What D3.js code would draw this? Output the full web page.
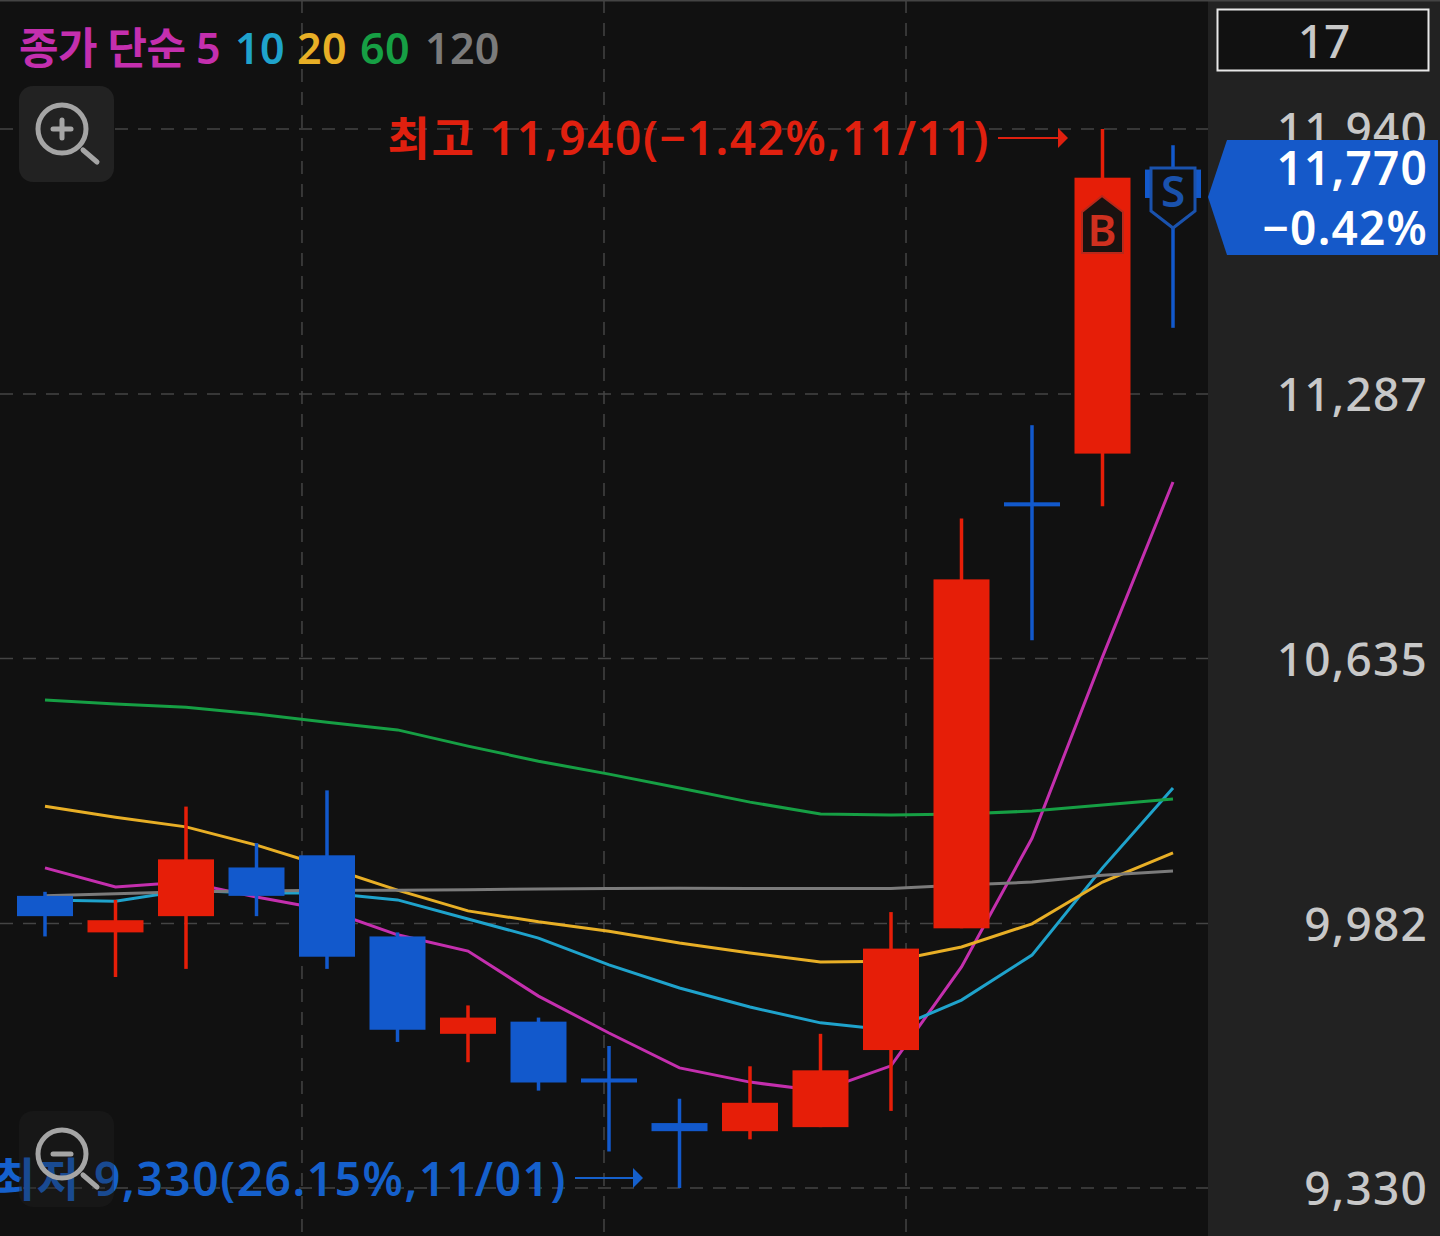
<!DOCTYPE html>
<html>
<head>
<meta charset="utf-8">
<script src="https://cdn.jsdelivr.net/npm/d3@7"></script>
<style>
  html, body { margin: 0; padding: 0; background: #111; overflow: hidden; }
  svg { display: block; }
  text { font-family: "Noto Sans", "Noto Sans CJK KR", sans-serif; }
</style>
</head>
<body>
<div id="chart"></div>
<script>
// candles, oldest first
const opens  = [10050, 9960, 10000, 10120, 10150, 9950, 9710, 9740, 9600, 9490, 9470, 9480, 9670, 9970, 11020, 11140, 11840];
const highs  = [10060, 10040, 10270, 10180, 10310, 9960, 9780, 9750, 9680, 9550, 9630, 9710, 10010, 10980, 11210, 11940, 11900];
const lows   = [9950, 9850, 9870, 10000, 9870, 9690, 9640, 9570, 9420, 9330, 9450, 9480, 9520, 9970, 10680, 11010, 11450];
const closes = [10000, 9990, 10140, 10050, 9900, 9720, 9750, 9590, 9590, 9470, 9540, 9620, 9920, 10830, 11010, 11820, 11770];

// moving averages
const ma5   = [10119, 10072, 10084, 10047, 10015, 9954, 9914, 9803, 9712, 9626, 9591, 9569, 9631, 9875, 10192, 10639, 11070];
const ma10  = [10040, 10037, 10064, 10057, 10057, 10040, 9993, 9946, 9880, 9823, 9776, 9737, 9719, 9793, 9904, 10119, 10316];
const ma20  = [10271, 10244, 10220, 10175, 10121, 10064, 10013, 9986, 9963, 9934, 9909, 9887, 9889, 9924, 9981, 10084, 10156];
const ma60  = [10533, 10523, 10515, 10498, 10478, 10459, 10419, 10382, 10350, 10316, 10281, 10252, 10249, 10252, 10259, 10274, 10289];
const ma120 = [10050, 10055, 10060, 10062, 10064, 10064, 10065, 10067, 10068, 10069, 10068, 10068, 10068, 10077, 10084, 10101, 10111];

const priceTicks = [9330, 9982, 10635, 11287, 11940];
const gridSlots = [3.645, 7.929, 12.213];

const legendLabels = ['종가 단순 5', '10', '20', '60', '120'];
const legendX = [19, 235, 297, 360, 425];
const maSeries = [ma5, ma10, ma20, ma60, ma120];
const maColors = ['#c42fae', '#1fa3cc', '#e8af26', '#169f44', '#7b7b7b'];

const upColor = '#e61e08', downColor = '#1259cc';
const width = 1440, height = 1236, plotRight = 1208;

const svg = d3.select('#chart').append('svg')
  .attr('width', width)
  .attr('height', height);

const x = d3.scaleLinear().domain([0, 16]).range([45, 1173]);
const y = d3.scaleLinear().domain([9330, 11940]).range([1188, 129]);
const bodyW = 56;

svg.append('rect').attr('width', width).attr('height', height).attr('fill', '#111');
svg.append('rect').attr('x', plotRight).attr('width', width - plotRight).attr('height', height).attr('fill', '#222');
svg.append('rect').attr('width', width).attr('height', 1.5).attr('fill', '#444');

// grid
svg.append('g').selectAll('line').data(priceTicks).join('line')
  .attr('x1', 0).attr('x2', plotRight)
  .attr('y1', d => y(d)).attr('y2', d => y(d))
  .attr('stroke', '#444').attr('stroke-width', 1.5).attr('stroke-dasharray', '13 10');
svg.append('g').selectAll('line').data(gridSlots).join('line')
  .attr('x1', d => x(d)).attr('x2', d => x(d))
  .attr('y1', 0).attr('y2', height)
  .attr('stroke', '#444').attr('stroke-width', 1.5).attr('stroke-dasharray', '13 10');

// moving average lines go under the candles
const line = d3.line().x((d, i) => x(i)).y(d => y(d));
svg.append('g').selectAll('path').data(maSeries).join('path')
  .attr('d', line)
  .attr('fill', 'none')
  .attr('stroke', (d, i) => maColors[i])
  .attr('stroke-width', 3);

// candles
const candleColor = i => closes[i] >= opens[i] ? upColor : downColor;
const candles = svg.append('g').selectAll('g').data(d3.range(opens.length)).join('g');
candles.append('line')
  .attr('x1', i => x(i)).attr('x2', i => x(i))
  .attr('y1', i => y(highs[i])).attr('y2', i => y(lows[i]))
  .attr('stroke', candleColor).attr('stroke-width', 3.5);
candles.append('rect')
  .attr('x', i => x(i) - bodyW / 2)
  .attr('width', bodyW)
  .attr('y', i => y(Math.max(opens[i], closes[i])))
  .attr('height', i => Math.max(3.5, Math.abs(y(opens[i]) - y(closes[i]))))
  .attr('fill', candleColor);

// legend
svg.append('g').selectAll('text').data(legendLabels).join('text')
  .attr('x', (d, i) => legendX[i])
  .attr('y', 64)
  .attr('font-size', 43)
  .attr('font-weight', 600)
  .attr('letter-spacing', (d, i) => i === 0 ? -0.6 : 0.3)
  .attr('fill', (d, i) => maColors[i])
  .text(d => d);

// high / low callouts
function callout(label, endX, baseY, arrowY, arrowEnd, color) {
  svg.append('text')
    .attr('x', endX + 2).attr('y', baseY)
    .attr('text-anchor', 'end')
    .attr('font-size', 46)
    .attr('font-weight', 600)
    .attr('letter-spacing', 1.6)
    .attr('fill', color)
    .text(label);
  svg.append('line')
    .attr('x1', endX + 10).attr('x2', arrowEnd - 8)
    .attr('y1', arrowY).attr('y2', arrowY)
    .attr('stroke', color).attr('stroke-width', 2);
  svg.append('path')
    .attr('d', `M${arrowEnd - 10},${arrowY - 10}L${arrowEnd},${arrowY}L${arrowEnd - 10},${arrowY + 10}Z`)
    .attr('fill', color);
}
callout('최고 11,940(−1.42%,11/11)', 988, 155, 138, 1068, '#e0200f');
callout('최저 9,330(26.15%,11/01)', 565, 1196, 1178, 643, '#1560cc');

// price axis
const axis = d3.axisRight(y).tickValues(priceTicks).tickSize(0).tickPadding(0).tickFormat(d3.format(','));
const axisG = svg.append('g').attr('transform', 'translate(1427,0)').call(axis);
axisG.select('.domain').remove();
axisG.selectAll('text')
  .attr('text-anchor', 'end')
  .attr('x', 1)
  .attr('dy', '0.36em')
  .attr('font-size', 46)
  .attr('font-weight', 500)
  .attr('letter-spacing', 1.2)
  .attr('font-family', '"Noto Sans", "Noto Sans CJK KR", sans-serif')
  .attr('fill', '#c8c8c8');

// top box
svg.append('rect').attr('x', 1217.5).attr('y', 9.5).attr('width', 211).attr('height', 61)
  .attr('fill', '#111').attr('stroke', '#e8e8e8').attr('stroke-width', 2);
svg.append('text').attr('x', 1324).attr('y', 58).attr('text-anchor', 'middle')
  .attr('font-size', 46).attr('font-weight', 500).attr('fill', '#c8c8c8').text('17');

// current price tag
svg.append('path').attr('d', 'M1208,197L1227,140H1438V255H1227Z').attr('fill', '#1559c9');
svg.append('text').attr('x', 1428).attr('y', 185).attr('text-anchor', 'end')
  .attr('font-size', 46).attr('font-weight', 600).attr('letter-spacing', 1.2).attr('fill', '#fff').text('11,770');
svg.append('text').attr('x', 1428).attr('y', 245).attr('text-anchor', 'end')
  .attr('font-size', 46).attr('font-weight', 600).attr('letter-spacing', 1.2).attr('fill', '#fff').text('−0.42%');

// buy / sell markers
const buy = svg.append('g');
buy.append('path').attr('d', 'M1102,196L1123,212V253H1082V212Z')
  .attr('fill', '#1a1210').attr('stroke', '#b8281a').attr('stroke-width', 2);
buy.append('text').attr('x', 1102).attr('y', 246).attr('text-anchor', 'middle')
  .attr('font-size', 44).attr('font-weight', 600).attr('fill', '#d0301f').text('B');
const sell = svg.append('g');
sell.append('path').attr('d', 'M1151,168H1195V211L1173,228L1151,211Z')
  .attr('fill', '#111').attr('stroke', '#1a52ad').attr('stroke-width', 3);
sell.append('text').attr('x', 1173).attr('y', 207).attr('text-anchor', 'middle')
  .attr('font-size', 44).attr('font-weight', 600).attr('fill', '#1a52ad').text('S');

// zoom buttons
function zoomButton(bx, by, plus, alpha) {
  const g = svg.append('g');
  g.append('rect').attr('x', bx).attr('y', by).attr('width', 95).attr('height', 96).attr('rx', 14)
    .attr('fill', '#222').attr('fill-opacity', alpha);
  const cx = bx + 43, cy = by + 43;
  g.append('circle').attr('cx', cx).attr('cy', cy).attr('r', 24)
    .attr('fill', 'none').attr('stroke', '#a5a5a5').attr('stroke-width', 5);
  g.append('line').attr('x1', cx + 21).attr('y1', cy + 21).attr('x2', cx + 35).attr('y2', cy + 33)
    .attr('stroke', '#a5a5a5').attr('stroke-width', 5).attr('stroke-linecap', 'round');
  g.append('line').attr('x1', cx - 9).attr('x2', cx + 9).attr('y1', cy).attr('y2', cy)
    .attr('stroke', '#a5a5a5').attr('stroke-width', 5).attr('stroke-linecap', 'round');
  if (plus) {
    g.append('line').attr('x1', cx).attr('x2', cx).attr('y1', cy - 9).attr('y2', cy + 9)
      .attr('stroke', '#a5a5a5').attr('stroke-width', 5).attr('stroke-linecap', 'round');
  }
}
zoomButton(19, 86, true, 1);
zoomButton(19, 1111, false, 0.35);
</script>
</body>
</html>
